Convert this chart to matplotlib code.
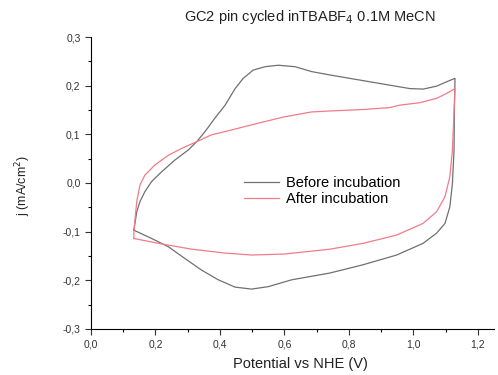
import matplotlib
matplotlib.use("Agg")
import matplotlib.pyplot as plt
from matplotlib.ticker import MultipleLocator, FuncFormatter

plt.rcParams['font.family'] = ['Liberation Sans', 'DejaVu Sans']

# Before incubation (closed CV loop)
before_v = [0.133, 0.134, 0.142, 0.152, 0.167, 0.188, 0.219, 0.26, 0.302, 0.328, 0.353,
            0.384, 0.416, 0.447, 0.472, 0.503, 0.54, 0.581, 0.633, 0.684, 0.741, 0.803,
            0.865, 0.927, 0.989, 1.03, 1.072, 1.103, 1.129,
            1.127, 1.126, 1.121, 1.113, 1.098, 1.072, 1.03, 0.948, 0.844, 0.741,
            0.622, 0.55, 0.498, 0.447, 0.395, 0.343, 0.291, 0.24, 0.188, 0.133]
before_j = [-0.097, -0.093, -0.059, -0.038, -0.018, 0.003, 0.023, 0.047, 0.068, 0.085, 0.105,
            0.133, 0.160, 0.194, 0.215, 0.232, 0.239, 0.242, 0.239, 0.229, 0.222, 0.215,
            0.208, 0.201, 0.194, 0.193, 0.199, 0.208, 0.215,
            0.15, 0.068, -0.001, -0.049, -0.083, -0.103, -0.124, -0.148, -0.168, -0.185,
            -0.199, -0.213, -0.218, -0.214, -0.199, -0.179, -0.155, -0.131, -0.114, -0.097]

# After incubation (closed CV loop)
after_v = [0.133, 0.133, 0.136, 0.142, 0.152, 0.167, 0.198, 0.24, 0.281, 0.328, 0.374,
           0.436, 0.519, 0.60, 0.684, 0.741, 0.844, 0.927, 0.958, 1.02, 1.072, 1.103, 1.129,
           1.125, 1.121, 1.113, 1.098, 1.072, 1.03, 0.948, 0.844, 0.741, 0.60, 0.498,
           0.416, 0.312, 0.209, 0.133]
after_j = [-0.114, -0.10, -0.079, -0.038, -0.004, 0.016, 0.037, 0.057, 0.071, 0.085, 0.099,
           0.109, 0.123, 0.136, 0.146, 0.148, 0.151, 0.155, 0.160, 0.165, 0.174, 0.184, 0.194,
           0.13, 0.068, 0.013, -0.028, -0.059, -0.083, -0.107, -0.124, -0.136, -0.146, -0.148,
           -0.144, -0.136, -0.124, -0.114]

fig = plt.figure(figsize=(4.98, 3.75), dpi=100)
ax = fig.add_axes([0.1827, 0.1227, 0.8093, 0.7786])

ax.plot(before_v, before_j, color='#707070', lw=0.9, label='Before incubation')
ax.plot(after_v, after_j, color='#f07c88', lw=0.9, label='After incubation')

ax.set_xlim(0, 1.25)
ax.set_ylim(-0.3, 0.3)
ax.spines['top'].set_visible(False)
ax.spines['right'].set_visible(False)
ax.xaxis.set_major_locator(MultipleLocator(0.2))
ax.xaxis.set_minor_locator(MultipleLocator(0.1))
ax.yaxis.set_major_locator(MultipleLocator(0.1))
ax.yaxis.set_minor_locator(MultipleLocator(0.05))
fmt = FuncFormatter(lambda v, p: f"{v:.1f}".replace('.', ',').replace('-0,0', '0,0'))
ax.xaxis.set_major_formatter(fmt)
ax.yaxis.set_major_formatter(fmt)
ax.tick_params(which='major', direction='out', length=4, width=0.8, labelsize=7.5, colors='#333333')
ax.tick_params(which='minor', direction='out', length=2, width=0.8)

ax.set_xlabel('Potential vs NHE (V)', fontsize=10.5, color='#222222')
ax.xaxis.set_label_coords(0.52, -0.095)
ax.set_ylabel('j (mA/cm$^2$)', fontsize=9, color='#222222')
ax.yaxis.set_label_coords(-0.145, 0.49)

fig.text(0.622, 0.955, 'GC2 pin cycled inTBABF$_4$ 0.1M MeCN', ha='center', va='center',
         fontsize=10.5, color='#222222')

ax.legend(loc='upper left', bbox_to_anchor=(0.365, 0.545), frameon=False, fontsize=10.5,
          handlelength=2.4, handletextpad=0.5, labelspacing=0.15, borderaxespad=0)

fig.savefig('out.png', dpi=100, facecolor='white')
